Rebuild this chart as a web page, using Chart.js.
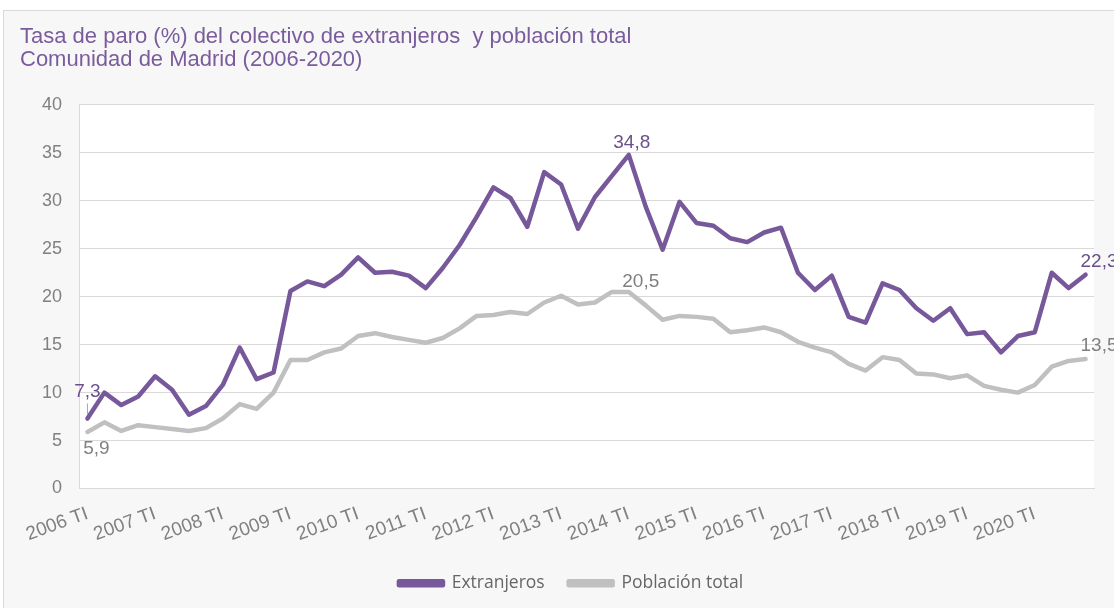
<!DOCTYPE html>
<html>
<head>
<meta charset="utf-8">
<script src="https://cdn.jsdelivr.net/npm/chart.js@4/dist/chart.umd.min.js"></script>
<style>
  html, body { margin: 0; padding: 0; background: #ffffff; overflow: hidden; }
  #frame { position: absolute; left: 3px; top: 10px; width: 1200px; height: 700px;
           background: #f7f7f7; border: 1px solid #d9d9d9; }
  #chart { position: absolute; left: 0; top: 0; }
</style>
</head>
<body>
<div id="frame"></div>
<canvas id="chart" width="1114" height="608"></canvas>
<script>
// años y trimestres
const years = [2006, 2007, 2008, 2009, 2010, 2011, 2012, 2013, 2014, 2015, 2016, 2017, 2018, 2019, 2020];
const quarters = ["TI", "TII", "TIII", "TIV"];
const categories = [];
years.forEach(y => quarters.forEach(q => categories.push(y + " " + q)));

// tasa de paro (%)
const extranjeros = [
  7.3, 10.0, 8.7, 9.6,
  11.7, 10.3, 7.7, 8.6,
  10.8, 14.7, 11.4, 12.1,
  20.6, 21.6, 21.1, 22.3,
  24.1, 22.5, 22.6, 22.2,
  20.9, 23.0, 25.4, 28.3,
  31.4, 30.3, 27.3, 33.0,
  31.7, 27.1, 30.4, 32.6,
  34.8, 29.4, 24.9, 29.9,
  27.7, 27.4, 26.1, 25.7,
  26.7, 27.2, 22.5, 20.7,
  22.2, 17.9, 17.3, 21.4,
  20.7, 18.8, 17.5, 18.8,
  16.1, 16.3, 14.2, 15.9,
  16.3, 22.5, 20.9, 22.3
];
const poblacionTotal = [
  5.9, 6.9, 6.0, 6.6,
  6.4, 6.2, 6.0, 6.3,
  7.3, 8.8, 8.3, 10.0,
  13.4, 13.4, 14.2, 14.6,
  15.9, 16.2, 15.8, 15.5,
  15.2, 15.7, 16.7, 18.0,
  18.1, 18.4, 18.2, 19.4,
  20.1, 19.2, 19.4, 20.5,
  20.5, 19.1, 17.6, 18.0,
  17.9, 17.7, 16.3, 16.5,
  16.8, 16.3, 15.3, 14.7,
  14.2, 13.0, 12.3, 13.7,
  13.4, 12.0, 11.9, 11.5,
  11.8, 10.7, 10.3, 10.0,
  10.8, 12.7, 13.3, 13.5
];
const yTicks = [0, 5, 10, 15, 20, 25, 30, 35, 40];

const purple = "#76589b";
const grey = "#c0c0c0";

// fondo blanco del area de trazado
const plotBg = {
  id: "plotBg",
  beforeDraw(chart) {
    const { ctx, chartArea: a } = chart;
    ctx.save();
    ctx.fillStyle = "#ffffff";
    ctx.fillRect(a.left, a.top, a.right - a.left, a.bottom - a.top);
    ctx.restore();
  }
};

// la leyenda del original esta algo desplazada a la derecha
const legendShift = {
  id: "legendShift",
  afterLayout(chart) {
    if (chart.legend) {
      chart.legend.left += 14;
      chart.legend.right += 14;
    }
  }
};

// etiquetas de datos (solo algunos puntos)
const pointLabels = {
  id: "pointLabels",
  afterDatasetsDraw(chart, args, opts) {
    const ctx = chart.ctx;
    ctx.save();
    ctx.font = "19px 'Liberation Sans', Arial, sans-serif";
    ctx.textBaseline = "middle";
    opts.spots.forEach(s => {
      const ds = chart.data.datasets[s.ds];
      const pt = chart.getDatasetMeta(s.ds).data[s.i];
      const txt = ds.data[s.i].toFixed(1).replace(".", ",");
      ctx.fillStyle = s.ds === 0 ? "#6a4f8c" : "#808080";
      ctx.textAlign = s.align;
      ctx.fillText(txt, pt.x + s.dx, pt.y + s.dy);
      if (s.leader) {
        ctx.strokeStyle = "#a6a6a6";
        ctx.lineWidth = 1;
        ctx.beginPath();
        ctx.moveTo(pt.x, pt.y - 15);
        ctx.lineTo(pt.x, pt.y - 4);
        ctx.stroke();
      }
    });
    ctx.restore();
  }
};

const ctx = document.getElementById("chart").getContext("2d");

new Chart(ctx, {
  type: "line",
  data: {
    labels: categories,
    datasets: [{
      label: "Extranjeros",
      data: extranjeros,
      borderColor: purple,
      backgroundColor: purple,
      borderWidth: 4.5,
      pointRadius: 0,
      borderJoinStyle: "round",
      borderCapStyle: "round",
      tension: 0
    }, {
      label: "Población total",
      data: poblacionTotal,
      borderColor: grey,
      backgroundColor: grey,
      borderWidth: 4.5,
      pointRadius: 0,
      borderJoinStyle: "round",
      borderCapStyle: "round",
      tension: 0
    }]
  },
  options: {
    responsive: false,
    animation: false,
    layout: { padding: { left: 20, right: 20, top: 0, bottom: 6 } },
    scales: {
      x: {
        offset: true,
        grid: { display: false, drawTicks: false },
        border: { display: true, color: "#d9d9d9" },
        ticks: {
          autoSkip: false,
          maxRotation: 20,
          minRotation: 20,
          padding: 14,
          color: "#808080",
          font: { family: "'Liberation Sans', Arial, sans-serif", size: 19 },
          callback: function (val, index) {
            return index % 4 === 0 ? this.getLabelForValue(val) : "";
          }
        },
        afterFit: s => { s.height = 62; }
      },
      y: {
        min: 0,
        max: 40,
        afterBuildTicks: s => { s.ticks = yTicks.map(v => ({ value: v })); },
        grid: { color: "#d9d9d9", lineWidth: 1, drawTicks: false },
        border: { display: true, color: "#d9d9d9" },
        ticks: {
          padding: 17,
          color: "#808080",
          font: { family: "'Liberation Sans', Arial, sans-serif", size: 18 }
        },
        afterFit: s => { s.width = 59; }
      }
    },
    plugins: {
      title: {
        display: true,
        text: ["Tasa de paro (%) del colectivo de extranjeros  y población total", "Comunidad de Madrid (2006-2020)"],
        align: "start",
        color: "#7a5c9c",
        font: { family: "'Liberation Sans', Arial, sans-serif", size: 22, weight: "normal", lineHeight: 1.045 },
        padding: { top: 25, bottom: 34 }
      },
      legend: {
        position: "bottom",
        labels: {
          boxWidth: 44,
          boxHeight: 4,
          padding: 24,
          color: "#666666",
          font: { family: "'Open Sans', 'Noto Sans', sans-serif", size: 17.5 }
        }
      },
      tooltip: { enabled: false },
      pointLabels: {
        spots: [
          { ds: 0, i: 0, dx: 0, dy: -27, align: "center", leader: true },
          { ds: 1, i: 0, dx: 9, dy: 17, align: "center" },
          { ds: 0, i: 32, dx: 3, dy: -12, align: "center" },
          { ds: 1, i: 32, dx: 12, dy: -10, align: "center" },
          { ds: 0, i: 59, dx: -5, dy: -13, align: "left" },
          { ds: 1, i: 59, dx: -5, dy: -13, align: "left" }
        ]
      }
    }
  },
  plugins: [plotBg, legendShift, pointLabels]
});
</script>
</body>
</html>
